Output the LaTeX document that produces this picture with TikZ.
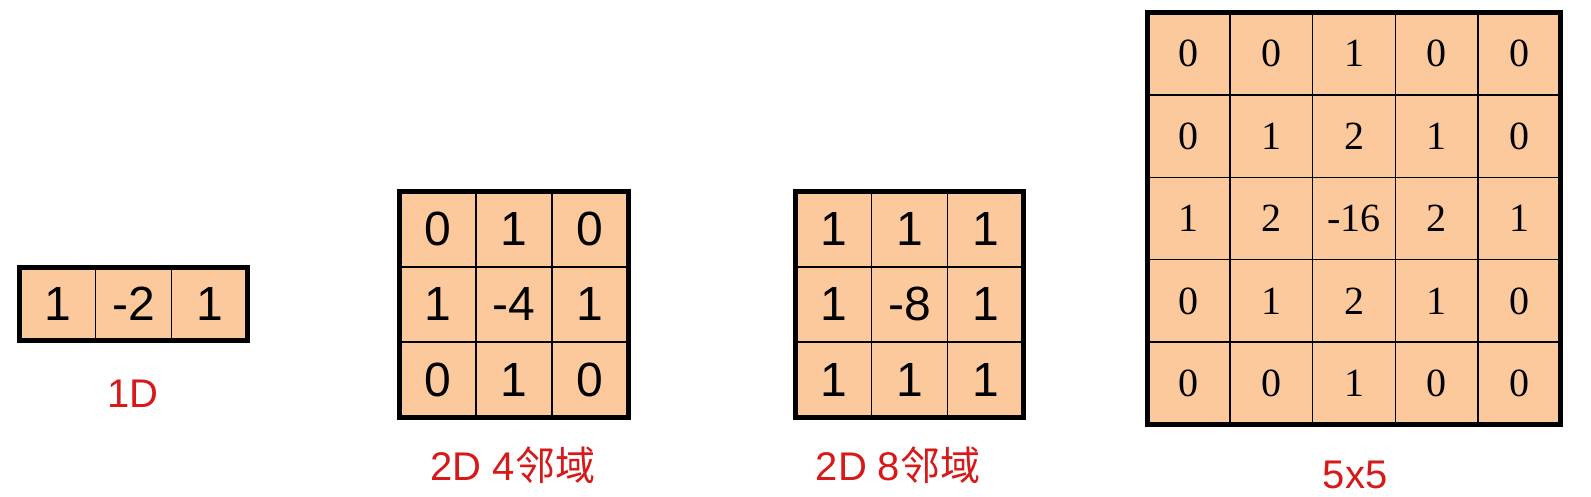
\documentclass[tikz,border=0pt]{standalone}
\usepackage{fontspec}
\setmainfont{Liberation Sans}
\newfontfamily\cjkfont{Noto Sans CJK SC}
\newfontfamily\serifnum{Liberation Serif}
\usetikzlibrary{positioning}
\definecolor{peach}{RGB}{251,201,156}
\definecolor{labelred}{RGB}{215,25,25}

\begin{document}
\begin{tikzpicture}[x=1pt, y=-1pt]
        \tikzstyle{cell} = [rectangle, draw=black, line width=1.5pt, fill=peach, inner sep=0pt, outer sep=0pt, font=\fontsize{48}{52}\selectfont]
        \tikzstyle{bigcell} = [cell, minimum width=82.6pt, minimum height=82.4pt, font=\serifnum\fontsize{40}{44}\selectfont]
        \tikzstyle{frame} = [draw=black, line width=5pt]
        \tikzstyle{caption} = [text=labelred, anchor=base, inner sep=0pt, font=\fontsize{40}{44}\selectfont]

        \useasboundingbox (0,0) rectangle (1591,496);

        % 1D
        \foreach \v [count=\c] in {1,-2,1}
            \node[cell, minimum width=76pt, minimum height=73pt] (a\c) at (19.5+76*\c-38, 304) {\v};
        \draw[frame] (a1.north west) rectangle (a3.south east);
        \node[caption] (capa) at (133, 407) {1D};

        % 2D 4
        \foreach \row [count=\r] in {{0,1,0},{1,-4,1},{0,1,0}}{
            \foreach \v [count=\c] in \row
                \node[cell, minimum width=76.3pt, minimum height=75.3pt] (b\r\c) at (399.5+76.3*\c-38.15, 191.5+75.3*\r-37.65) {\v};
        }
        \draw[frame] (b11.north west) rectangle (b33.south east);
        \node[caption] (capb) at (513, 480) {2D 4{\cjkfont 邻域}};

        % 2D 8
        \foreach \row [count=\r] in {{1,1,1},{1,-8,1},{1,1,1}}{
            \foreach \v [count=\c] in \row
                \node[cell, minimum width=76pt, minimum height=75.3pt] (c\r\c) at (795.5+76*\c-38, 191.5+75.3*\r-37.65) {\v};
        }
        \draw[frame] (c11.north west) rectangle (c33.south east);
        \node[caption] (capc) at (898, 480) {2D 8{\cjkfont 邻域}};

        % 5x5
        \foreach \row [count=\r] in {{0,0,1,0,0},{0,1,2,1,0},{1,2,-16,2,1},{0,1,2,1,0},{0,0,1,0,0}}{
            \foreach \v [count=\c] in \row
                \node[bigcell] (d\r\c) at (1147.5+82.6*\c-41.3, 12.5+82.4*\r-41.2) {\v};
        }
        \draw[frame] (d11.north west) rectangle (d55.south east);
        \node[caption] (capd) at (1355, 488) {5x5};
    \end{tikzpicture}
\end{document}
